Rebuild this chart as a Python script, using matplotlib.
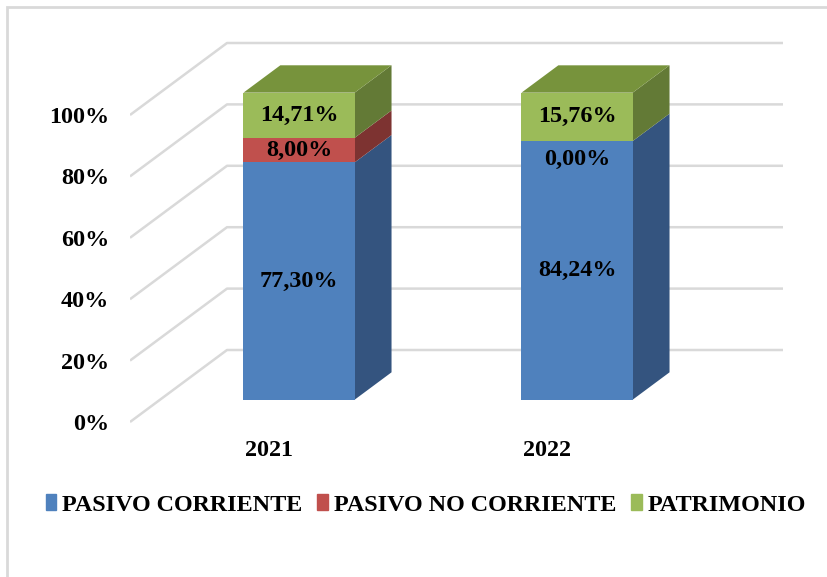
import numpy as np
from matplotlib import pyplot as plt
import matplotlib.patches as mpatches
from matplotlib.patches import Polygon, Rectangle

# data
years = ['2021', '2022']
series = ['PASIVO CORRIENTE', 'PASIVO NO CORRIENTE', 'PATRIMONIO']
pasivo_corriente = [77.30, 84.24]
pasivo_no_corriente = [8.00, 0.00]
patrimonio = [14.71, 15.76]
yticks = [0, 20, 40, 60, 80, 100]

front_cols = ['#4F81BD', '#C0504D', '#9BBB59']
side_cols = ['#34547F', '#7D3331', '#637A36']
top_cols = ['#385D8A', '#8C3836', '#77933C']

plt.rcParams['font.family'] = ['Liberation Serif', 'DejaVu Serif']
plt.rcParams['font.weight'] = 'bold'
FS = 17.4

fig = plt.figure(figsize=(8.27, 5.77), dpi=100)
W, H = 827, 577

# axes laid out in pixels: front plane 0% at y=422, 100% at y=115, x=0 at px 269, 1 unit=278px
px_unit, py_unit = 278.0, 3.07
x0px, y0px = 269.0, 422.0
left, right, bottom, top = 130, 800, 430, 20
ax = fig.add_axes([left / W, 1 - bottom / H, (right - left) / W, (bottom - top) / H])
ax.set_xlim((left - x0px) / px_unit, (right - x0px) / px_unit)
ax.set_ylim((y0px - bottom) / py_unit, (y0px - top) / py_unit)
for s in ax.spines.values():
    s.set_visible(False)

# oblique depth
DX = 97 / px_unit
DY = 72 / py_unit
t0, t1 = 0.31, 0.69
bw = 0.4
grid_c = '#D9D9D9'

def proj(x, y, t):
    return (x + DX * t, y + DY * t)

# walls / gridlines
for v in yticks:
    a = proj(-0.5, v, 0)
    b = proj(-0.5, v, 1)
    c = proj(1.5, v, 1)
    ax.plot([a[0], b[0], c[0]], [a[1], b[1], c[1]], color=grid_c, lw=1.8, zorder=1,
            solid_capstyle='butt')

# bars
stack = [pasivo_corriente, pasivo_no_corriente, patrimonio]
xs = np.arange(len(years))
for i, x in enumerate(xs):
    base = 0.0
    nseg = len(stack)
    for k in range(nseg):
        h = stack[k][i]
        xl, xr = x - bw / 2, x + bw / 2
        if h > 0:
            # side face
            pts = [proj(xr, base, t0), proj(xr, base, t1), proj(xr, base + h, t1), proj(xr, base + h, t0)]
            ax.add_patch(Polygon(pts, closed=True, facecolor=side_cols[k], edgecolor='none', zorder=3))
            # front face
            p = proj(xl, base, t0)
            ax.add_patch(Rectangle(p, bw, h, facecolor=front_cols[k], edgecolor='none', zorder=4))
            if k == nseg - 1:
                pts = [proj(xl, base + h, t0), proj(xr, base + h, t0), proj(xr, base + h, t1), proj(xl, base + h, t1)]
                ax.add_patch(Polygon(pts, closed=True, facecolor=top_cols[k], edgecolor='none', zorder=3))
        # data label
        cx, cy = proj(x, base + h / 2, t0)
        if h == 0:
            cy -= 6.0
        ax.text(cx, cy, f'{h:.2f}%'.replace('.', ','), ha='center', va='center',
                fontsize=FS, fontweight='bold', zorder=6)
        base += h

# ticks
ax.set_yticks(yticks)
ax.set_yticklabels([f'{v}%' for v in yticks])
ax.set_xticks(xs)
ax.set_xticklabels(years)
ax.tick_params(axis='y', length=0, pad=15, labelsize=FS)
ax.tick_params(axis='x', length=0, pad=7, labelsize=FS)
for lab in ax.get_xticklabels() + ax.get_yticklabels():
    lab.set_fontweight('bold')

# legend
handles = [mpatches.Patch(color=c, label=s) for c, s in zip(front_cols, series)]
fig.legend(handles=handles, loc='center', bbox_to_anchor=(0.515, 1 - 505 / H), ncol=3,
           frameon=False, prop={'size': FS, 'weight': 'bold'}, handlelength=0.45,
           handleheight=0.6, handletextpad=0.25, columnspacing=0.6)

# chart border
fig.patches.append(Rectangle((7 / W, -0.05), 1.1, 1 - 6.5 / H + 0.05, transform=fig.transFigure,
                             fill=False, edgecolor=grid_c, lw=2))

plt.savefig('out.png', dpi=100)
